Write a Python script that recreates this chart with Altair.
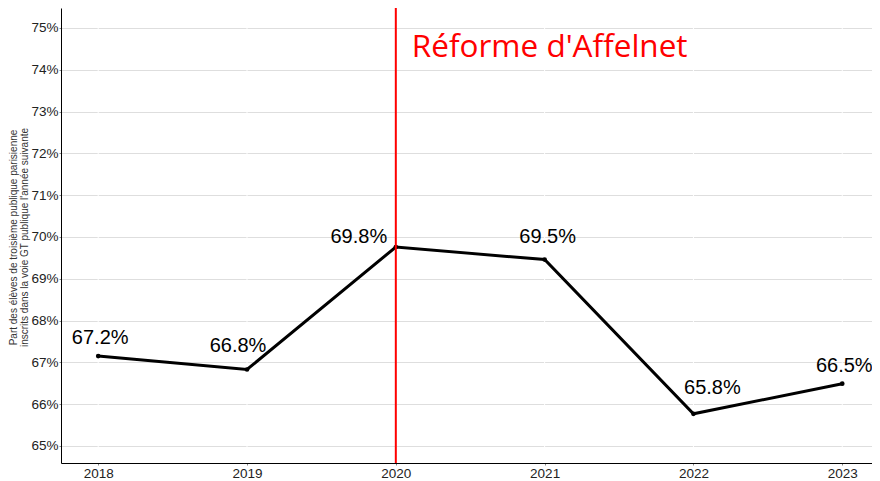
import altair as alt
import pandas as pd

years = [2018, 2019, 2020, 2021, 2022, 2023]
rates = [67.15, 66.83, 69.76, 69.46, 65.77, 66.49]
labels = ["67.2%", "66.8%", "69.8%", "69.5%", "65.8%", "66.5%"]
y_ticks = [65, 66, 67, 68, 69, 70, 71, 72, 73, 74, 75]
reform_year = [2020]
reform_text = ["Réforme d'Affelnet"]
y_title = ["Part des élèves de troisième publique parisienne",
           "inscrits dans la voie GT publique l'année suivante"]

df = pd.DataFrame({"year": years, "rate": rates, "label": labels})
reform = pd.DataFrame({"year": reform_year, "text": reform_text})

# label placement (dx, dy) per year, like a repel layout
label_offsets = {2018: (2, -12), 2019: (-9, -17), 2020: (-37, -4),
                 2021: (3, -17), 2022: (19, -20), 2023: (2, -12)}

X = alt.X("year:Q",
          scale=alt.Scale(domain=[2017.75, 2023.2], nice=False, zero=False),
          axis=alt.Axis(values=years, format="d", grid=False, title=None,
                        tickSize=2, labelPadding=1))
Y = alt.Y("rate:Q",
          scale=alt.Scale(domain=[64.593, 75.478], nice=False, zero=False),
          axis=alt.Axis(values=y_ticks, labelExpr="datum.value + '%'",
                        grid=True, gridColor="#dedede", gridWidth=1,
                        tickSize=2, labelPadding=1,
                        title=y_title, titleFontSize=10, titleFontWeight="normal",
                        titleFont="Liberation Sans", titleColor="#333333",
                        titleAngle=-90, titleX=-53, titleY=229,
                        titleBaseline="top", titleAlign="center",
                        titleLineHeight=11.5))

base = alt.Chart(df)

vgrid = base.mark_rule(color="white", strokeWidth=1).encode(x=X)
line = base.mark_line(color="black", strokeWidth=3).encode(x=X, y=Y)
pts = base.mark_circle(color="black", size=22, opacity=1).encode(x=X, y=Y)
red = alt.Chart(reform).mark_rule(color="#ff0000", strokeWidth=2).encode(x=X)
note = alt.Chart(reform).mark_text(
    align="left", baseline="alphabetic", dx=16, fontSize=31.5,
    font="Open Sans", color="#ff0000"
).encode(x=X, y=alt.value(49), text="text:N")

texts = []
for yr in years:
    dx, dy = label_offsets[yr]
    texts.append(
        base.transform_filter(alt.datum.year == yr).mark_text(
            align="center", baseline="alphabetic", dx=dx, dy=dy,
            fontSize=20, font="Liberation Sans", color="black"
        ).encode(x=X, y=Y, text="label:N")
    )

chart = alt.layer(vgrid, line, pts, red, *texts, note).properties(
    width=811, height=455,
    autosize=alt.AutoSizeParams(type="none"),
    padding={"left": 53, "top": 0, "right": 0, "bottom": 18},
).configure_view(stroke=None).configure_axis(
    domainColor="black", domainWidth=1, tickColor="#888888",
    labelFont="Liberation Sans", labelFontSize=13.5, labelColor="#222222",
)

chart.save("out.html", embed_options={"renderer": "svg", "actions": False})
